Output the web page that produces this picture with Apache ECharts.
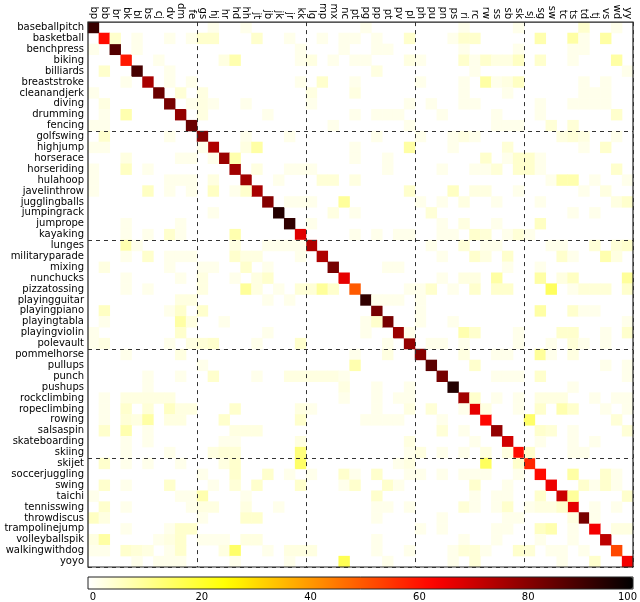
<!DOCTYPE html>
<html><head><meta charset="utf-8">
<script src="https://cdn.jsdelivr.net/npm/echarts@6/dist/echarts.min.js"></script>
<style>html,body{margin:0;padding:0;background:#fff}#c{width:640px;height:602px}</style>
</head><body><div id="c"></div>
<script>
const rowLabels = ["baseballpitch","basketball","benchpress","biking","billiards","breaststroke","cleanandjerk","diving","drumming","fencing","golfswing","highjump","horserace","horseriding","hulahoop","javelinthrow","jugglingballs","jumpingrack","jumprope","kayaking","lunges","militaryparade","mixing","nunchucks","pizzatossing","playingguitar","playingpiano","playingtabla","playingviolin","polevault","pommelhorse","pullups","punch","pushups","rockclimbing","ropeclimbing","rowing","salsaspin","skateboarding","skiing","skijet","soccerjuggling","swing","taichi","tennisswing","throwdiscus","trampolinejump","volleyballspik","walkingwithdog","yoyo"];
const colLabels = ["bp","bb","br","bk","bl","bs","cj","dv","dm","fe","gs","hj","hr","hd","hh","jt","jb","jk","jr","kk","lg","mp","mx","nc","pt","pg","pp","pt","pv","pl","ph","pu","pn","ps","ri","rc","rw","ss","sb","sk","sj","sg","sw","tc","ts","td","tj","vs","wd","yy"];
const diagonal = [92,62,88,60,90,76,85,83,79,85,81,75,78,77,77,76,81,95,93,68,75,75,83,67,50,93,83,83,78,79,81,87,83,95,77,67,63,79,70,62,58,62,66,71,67,83,65,73,53,65];
const offDiagonal = [
[0,11,2],[0,14,2],[0,25,2],[0,34,2],[0,39,2],[0,45,5],[0,48,2],
[1,2,5],[1,4,2],[1,7,2],[1,9,2],[1,10,5],[1,11,5],[1,15,5],[1,18,2],[1,21,2],[1,23,2],[1,24,2],[1,26,2],[1,29,5],[1,33,2],[1,34,5],[1,35,5],[1,41,8],[1,44,9],[1,45,2],[1,47,9],
[2,0,2],[2,4,2],[2,19,2],[2,23,2],[2,26,2],[2,27,2],[2,34,2],[2,39,2],[2,44,2],[2,45,2],
[3,6,2],[3,12,3],[3,13,8],[3,19,2],[3,20,3],[3,22,2],[3,24,2],[3,25,2],[3,29,3],[3,30,2],[3,34,5],[3,35,2],[3,36,5],[3,37,3],[3,38,3],[3,39,6],[3,41,5],[3,44,2],[3,48,9],
[4,1,5],[4,7,2],[4,26,3],[4,35,2],[4,49,2],
[5,3,2],[5,7,2],[5,9,2],[5,19,2],[5,21,5],[5,24,2],[5,30,2],[5,34,2],[5,36,9],[5,37,2],[5,38,3],[5,39,6],[5,45,2],[5,47,2],
[6,0,2],[6,8,4],[6,10,3],[6,20,3],[6,24,3],[6,34,2],[6,38,2],[6,45,2],[6,46,2],[6,47,2],
[7,1,3],[7,9,2],[7,10,3],[7,11,2],[7,14,2],[7,20,2],[7,29,2],[7,31,2],[7,34,2],[7,35,2],[7,41,2],[7,44,2],[7,45,2],[7,46,2],[7,47,2],
[8,1,2],[8,3,8],[8,10,3],[8,16,2],[8,24,2],[8,26,2],[8,27,2],[8,28,2],[8,32,2],[8,37,2],[8,41,2],[8,48,5],
[9,0,2],[9,1,2],[9,22,2],[9,29,2],[9,37,2],[9,38,2],[9,39,2],[9,42,4],[9,44,4],
[10,1,5],[10,7,2],[10,14,2],[10,18,2],[10,26,2],[10,30,2],[10,33,2],[10,34,3],[10,35,2],[10,43,3],[10,44,4],[10,45,3],[10,48,2],
[11,0,2],[11,1,2],[11,10,2],[11,14,3],[11,15,9],[11,24,2],[11,29,9],[11,33,2],[11,38,4],[11,45,2],[11,47,5],
[12,3,3],[12,8,2],[12,9,2],[12,11,2],[12,13,8],[12,24,2],[12,27,2],[12,36,5],[12,38,2],[12,39,5],[12,40,5],[12,41,2],
[13,0,2],[13,3,6],[13,5,2],[13,15,3],[13,18,2],[13,19,2],[13,20,2],[13,27,2],[13,32,2],[13,35,2],[13,36,2],[13,37,4],[13,39,5],[13,40,5],[13,41,2],[13,48,5],
[14,0,2],[14,7,2],[14,8,2],[14,9,2],[14,11,3],[14,17,2],[14,21,4],[14,22,4],[14,24,3],[14,42,2],[14,43,8],[14,44,8],[14,46,2],[14,49,2],
[15,0,2],[15,5,6],[15,7,2],[15,9,2],[15,11,6],[15,13,2],[15,14,5],[15,29,5],[15,33,6],[15,35,3],[15,36,3],[15,39,2],[15,45,2],[15,47,3],
[16,18,2],[16,19,2],[16,20,2],[16,23,10],[16,30,2],[16,32,2],[16,34,3],[16,37,2],[16,41,2],[16,48,3],[16,49,5],
[17,11,2],[17,22,3],[17,24,2],[17,31,4],[17,44,2],[17,46,2],
[18,3,2],[18,8,2],[18,20,2],[18,32,2],[18,34,3],[18,37,2],[18,41,6],
[19,3,2],[19,5,2],[19,7,5],[19,8,2],[19,13,8],[19,24,2],[19,26,2],[19,28,2],[19,29,2],[19,32,2],[19,33,2],[19,35,5],[19,36,4],[19,38,2],[19,39,4],[19,40,2],
[20,3,8],[20,4,2],[20,13,3],[20,16,2],[20,17,2],[20,18,2],[20,19,2],[20,31,2],[20,34,4],[20,36,2],[20,37,2],[20,42,2],[20,43,2],[20,46,4],[20,48,4],[20,49,5],
[21,3,2],[21,5,5],[21,7,2],[21,8,2],[21,9,2],[21,13,5],[21,14,3],[21,15,3],[21,19,2],[21,32,2],[21,35,5],[21,36,3],[21,38,5],[21,43,5],[21,44,2],[21,47,8],[21,48,3],
[22,1,3],[22,7,2],[22,10,2],[22,11,2],[22,14,5],[22,16,2],[22,27,2],[22,28,2],[22,38,2],[22,41,2],
[23,3,2],[23,8,2],[23,10,3],[23,13,2],[23,15,3],[23,16,5],[23,32,2],[23,34,3],[23,35,3],[23,37,9],[23,41,9],[23,43,3],[23,44,6],[23,49,10],
[24,3,2],[24,5,2],[24,10,3],[24,14,10],[24,15,3],[24,17,2],[24,19,4],[24,20,4],[24,21,10],[24,22,5],[24,29,2],[24,30,2],[24,31,5],[24,33,2],[24,35,5],[24,37,5],[24,38,5],[24,42,16],[24,44,2],[24,45,4],[24,46,4],[24,47,4],[24,49,5],
[25,8,3],[25,9,3],[25,16,2],[25,18,2],[25,26,2],[25,27,2],[25,28,2],[25,30,2],
[26,1,6],[26,7,2],[26,8,5],[26,10,5],[26,30,2],[26,41,9],[26,44,5],[26,45,2],[26,46,2],
[27,1,2],[27,8,9],[27,9,3],[27,12,2],[27,25,2],[27,26,5],[27,30,2],[27,33,2],[27,49,2],
[28,0,2],[28,8,5],[28,16,2],[28,25,2],[28,29,2],[28,34,8],[28,35,5],[28,39,2],[28,43,5],[28,44,5],[28,47,2],[28,49,5],
[29,0,2],[29,1,3],[29,7,2],[29,9,3],[29,10,4],[29,11,5],[29,15,2],[29,19,5],[29,27,2],[29,31,2],[29,32,2],[29,34,2],[29,39,2],[29,42,2],[29,44,4],[29,45,2],[29,47,2],
[30,3,2],[30,8,3],[30,24,2],[30,27,3],[30,34,3],[30,37,2],[30,38,2],[30,41,10],[30,42,2],[30,44,3],
[31,10,2],[31,24,8],[31,35,5],[31,47,2],[31,49,2],
[32,5,2],[32,8,2],[32,11,5],[32,15,2],[32,18,3],[32,19,3],[32,20,3],[32,21,3],[32,22,3],[32,23,2],[32,37,2],[32,38,2],[32,39,2],[32,41,5],[32,49,2],
[33,5,2],[33,23,3],[33,26,2],[33,29,2],[33,44,2],
[34,1,2],[34,3,3],[34,4,3],[34,5,3],[34,6,3],[34,7,3],[34,23,2],[34,26,2],[34,28,2],[34,29,2],[34,35,5],[34,37,2],[34,39,2],[34,41,3],[34,42,3],[34,43,3],[34,46,2],[34,48,2],[34,49,2],
[35,1,2],[35,3,5],[35,5,4],[35,7,6],[35,8,3],[35,9,3],[35,13,5],[35,19,3],[35,20,2],[35,26,2],[35,29,3],[35,31,4],[35,34,2],[35,36,3],[35,39,2],[35,41,5],[35,43,8],[35,44,5],[35,47,2],[35,49,2],
[36,1,2],[36,3,4],[36,4,3],[36,5,9],[36,7,3],[36,8,3],[36,12,5],[36,19,5],[36,25,2],[36,26,2],[36,27,2],[36,28,2],[36,32,2],[36,40,15],[36,48,4],
[37,1,5],[37,3,8],[37,5,2],[37,13,3],[37,14,3],[37,15,3],[37,32,4],[37,34,2],[37,41,5],[37,42,4],[37,44,2],[37,49,4],
[38,3,2],[38,5,2],[38,12,2],[38,13,2],[38,19,3],[38,29,3],[38,35,2],[38,41,2],[38,44,2],[38,46,2],
[39,3,2],[39,7,2],[39,11,3],[39,12,4],[39,13,4],[39,19,13],[39,29,2],[39,30,3],[39,32,2],[39,34,2],[39,36,3],[39,38,3],[39,40,5],[39,44,2],[39,45,2],
[40,1,5],[40,3,2],[40,5,2],[40,8,2],[40,12,3],[40,13,5],[40,19,15],[40,28,2],[40,29,3],[40,36,16],[40,39,5],
[41,10,2],[41,13,5],[41,16,5],[41,18,2],[41,20,2],[41,23,5],[41,24,2],[41,26,5],[41,29,2],[41,30,2],[41,32,2],[41,34,2],[41,35,2],[41,36,2],[41,39,2],[41,44,9],[41,47,5],[41,48,2],
[42,1,5],[42,3,2],[42,7,5],[42,11,2],[42,13,4],[42,15,5],[42,19,5],[42,23,2],[42,24,5],[42,27,5],[42,28,2],[42,35,5],[42,38,2],[42,45,5],[42,46,2],[42,47,5],[42,48,2],
[43,0,2],[43,8,2],[43,9,2],[43,10,8],[43,14,2],[43,26,5],[43,35,2],[43,37,2],[43,38,2],[43,41,5],[43,44,10],[43,49,5],
[44,1,5],[44,3,2],[44,9,2],[44,10,3],[44,11,3],[44,14,3],[44,17,2],[44,26,2],[44,27,2],[44,29,2],[44,34,4],[44,35,2],[44,37,2],[44,38,5],[44,40,2],[44,41,3],[44,42,3],[44,43,5],[44,46,2],[44,48,2],
[45,0,6],[45,1,3],[45,10,2],[45,14,5],[45,15,5],[45,26,2],[45,32,2],[45,38,2],[45,39,2],[45,44,3],[45,46,2],
[46,3,2],[46,7,2],[46,8,5],[46,9,5],[46,30,2],[46,32,2],[46,37,2],[46,38,2],[46,41,6],[46,42,8],[46,44,2],[46,48,3],[46,49,3],
[47,0,3],[47,1,9],[47,6,2],[47,7,3],[47,8,5],[47,10,2],[47,11,2],[47,12,2],[47,14,3],[47,15,3],[47,26,2],[47,34,2],[47,37,2],[47,41,2],[47,44,2],
[48,0,2],[48,1,2],[48,3,5],[48,4,4],[48,5,3],[48,7,2],[48,8,5],[48,12,3],[48,13,15],[48,16,2],[48,18,3],[48,19,3],[48,20,3],[48,26,2],[48,29,2],[48,33,2],[48,34,4],[48,35,4],[48,36,2],[48,39,5],[48,40,4],[48,42,2],[48,43,2],[48,45,2],
[49,4,2],[49,6,2],[49,7,2],[49,8,2],[49,13,2],[49,18,2],[49,23,17],[49,27,2],[49,33,2],[49,35,4],[49,43,2],[49,46,5]
];
const colorbarMin = 0, colorbarMax = 100, colorbarStep = 20;

// reversed matplotlib "hot" colormap
function hotR(v){
  const t = 1 - v/100;
  const cl = x => Math.max(0, Math.min(1, x));
  const r = cl(t/0.365079), g = cl((t-0.365079)/0.380953), b = cl((t-0.746032)/0.253968);
  const h = x => Math.round(x*255).toString(16).padStart(2,'0');
  return '#' + h(r) + h(g) + h(b);
}
const stops = [];
for (let i = 0; i <= 40; i++) stops.push(hotR(i*2.5));

const data = [];
diagonal.forEach((v,i)=>data.push([i,i,v]));
offDiagonal.forEach(d=>data.push([d[1],d[0],d[2]]));

const FONT = 'DejaVu Sans';
const chart = echarts.init(document.getElementById('c'), null, {renderer:'canvas'});
chart.setOption({
  animation:false,
  backgroundColor:'#fff',
  grid:[
    {left:88, top:20, width:545, height:547, show:true, borderColor:'#222', borderWidth:1.2, backgroundColor:'transparent', z:5},
    {left:88, top:577, width:545, height:12, show:true, borderColor:'#222', borderWidth:1, backgroundColor:'transparent', z:5},
    {left:93, top:577, width:545, height:12, show:false}
  ],
  xAxis:[
    {type:'category', gridIndex:0, data:colLabels, position:'top', z:6,
     axisLine:{show:false}, axisTick:{show:false},
     axisLabel:{rotate:90, fontSize:10, fontFamily:FONT, color:'#000', margin:3, interval:0},
     splitLine:{show:true, interval:(i)=> i>0 && i%10===0, lineStyle:{type:[4,4], color:'#333', width:1}}},
    {type:'value', gridIndex:1, min:0, max:1, show:false},
    {type:'value', gridIndex:2, min:colorbarMin, max:colorbarMax, interval:colorbarStep,
     axisLine:{show:false}, axisTick:{show:false},
     axisLabel:{fontSize:10, fontFamily:FONT, color:'#000', margin:5, alignMaxLabel:'right'},
     splitLine:{show:false}}
  ],
  yAxis:[
    {type:'category', gridIndex:0, data:rowLabels, inverse:true, z:6,
     axisLine:{show:false}, axisTick:{show:false},
     axisLabel:{fontSize:10, fontFamily:FONT, color:'#000', margin:4, interval:0},
     splitLine:{show:true, interval:(i)=> i>0 && i%10===0, lineStyle:{type:[4,4], color:'#333', width:1}}},
    {type:'value', gridIndex:1, show:false, min:0, max:1},
    {type:'value', gridIndex:2, show:false, min:0, max:1}
  ],
  visualMap:{
    type:'continuous', min:colorbarMin, max:colorbarMax, seriesIndex:0,
    orient:'horizontal', left:88, top:577, itemWidth:12, itemHeight:545,
    padding:0, text:['',''], showLabel:false, calculable:false, hoverLink:false,
    inRange:{color:stops}
  },
  series:[
    {type:'heatmap', xAxisIndex:0, yAxisIndex:0, data:data, itemStyle:{borderWidth:0}, emphasis:{disabled:true}, progressive:0}
  ]
});
</script></body></html>
